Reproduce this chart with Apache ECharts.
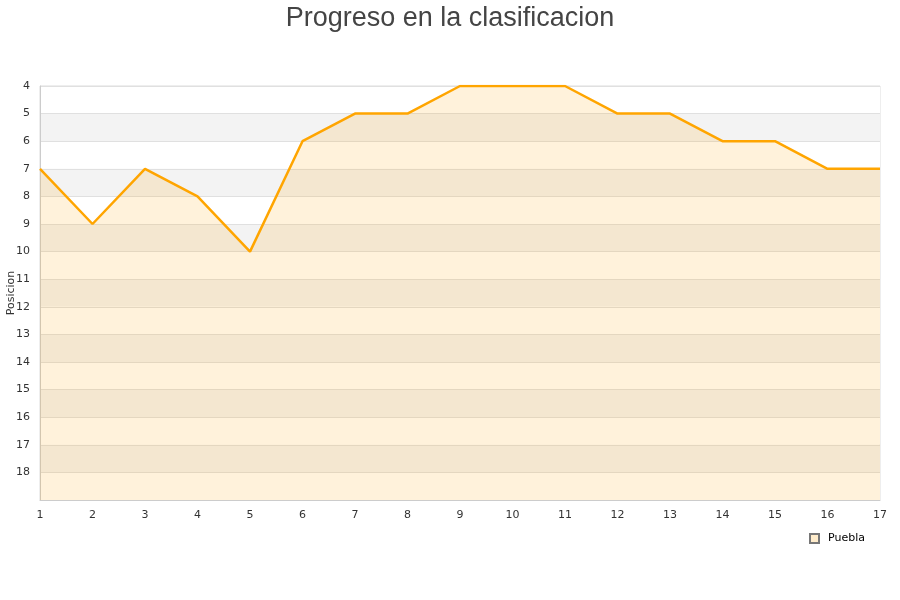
<!DOCTYPE html>
<html><head><meta charset="utf-8">
<script src="https://cdn.jsdelivr.net/npm/echarts@6/dist/echarts.min.js"></script>
<style>html,body{margin:0;padding:0;background:#fff}#c{width:900px;height:600px}</style>
</head><body><div id="c"></div>
<script>
const jornadas = ['1','2','3','4','5','6','7','8','9','10','11','12','13','14','15','16','17'];
const posiciones = [7,9,7,8,10,6,5,5,4,4,4,5,5,6,6,7,7];
const seriesName = 'Puebla';
const chart = echarts.init(document.getElementById('c'));
chart.setOption({
  animation:false,
  title:{text:'Progreso en la clasificacion',left:'center',top:0,textStyle:{fontFamily:'Liberation Sans',fontSize:27,fontWeight:'normal',color:'#444'}},
  grid:{left:40,right:20,top:86,bottom:100,show:true,borderColor:'#ddd',borderWidth:1,outerBoundsMode:'none',containLabel:false},
  legend:{data:[{name:seriesName,icon:'rect'}],left:804,top:528,itemWidth:9,itemHeight:9,itemGap:10,
    textStyle:{fontFamily:'DejaVu Sans',fontSize:11,color:'#000',padding:[0,0,0,4]}},
  xAxis:{type:'category',data:jornadas,boundaryGap:false,
    axisLine:{lineStyle:{color:'#ccc'}},axisTick:{show:false},
    axisLabel:{fontFamily:'DejaVu Sans',fontSize:11,color:'#333',margin:10},
    splitLine:{show:false}},
  yAxis:{type:'value',inverse:true,min:4,max:19,interval:1,
    name:'Posicion',nameLocation:'middle',nameGap:23,nameRotate:90,nameMoveOverlap:false,
    nameTextStyle:{fontFamily:'DejaVu Sans',fontSize:11,color:'#333'},
    axisLine:{show:true,lineStyle:{color:'#ccc'}},axisTick:{show:false},
    axisLabel:{fontFamily:'DejaVu Sans',fontSize:11,color:'#333',margin:10,
      formatter:v=>v>=19?'':String(v)},
    splitLine:{lineStyle:{color:'#e0e0e0'}},
    splitArea:{show:true,areaStyle:{color:['#ffffff','#f3f3f3']}}},
  series:[{name:seriesName,type:'line',data:posiciones,symbol:'none',
    lineStyle:{color:'#ffa500',width:2.5},
    itemStyle:{color:'#ffeccb',borderColor:'#777',borderWidth:1},
    areaStyle:{color:'rgba(255,165,0,0.2)',origin:'end'}}]
});
</script></body></html>
